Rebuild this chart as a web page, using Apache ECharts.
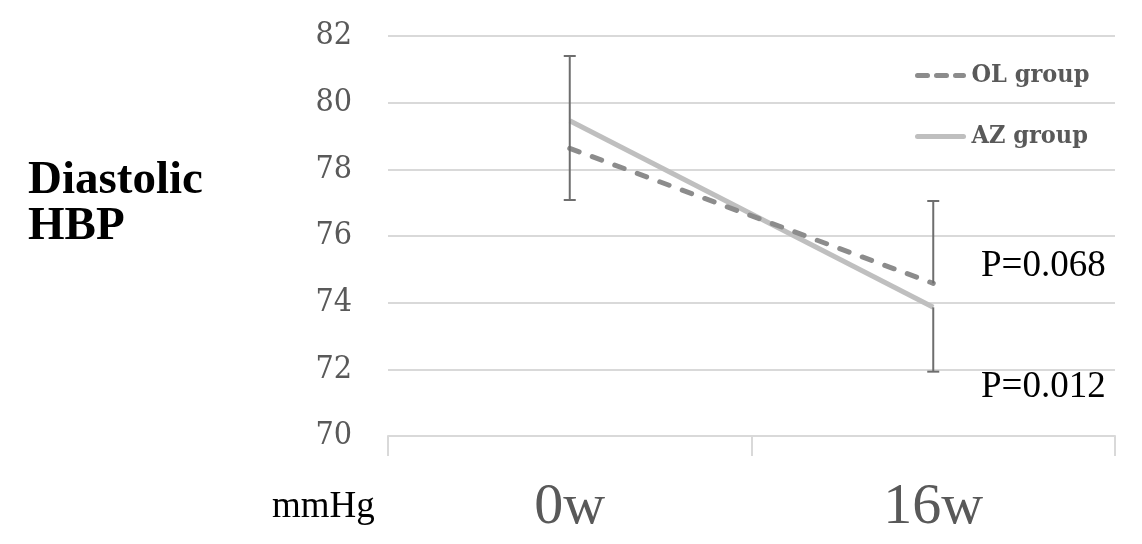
<!DOCTYPE html>
<html>
<head>
<meta charset="utf-8">
<script src="https://cdn.jsdelivr.net/npm/echarts@6/dist/echarts.min.js"></script>
<style>
  html, body { margin: 0; padding: 0; background: #fff; }
  #chart { width: 1142px; height: 544px; }
</style>
</head>
<body>
<div id="chart"></div>
<script>
// Diastolic home blood pressure, mmHg
const categories = ['0w', '16w'];
const yTicks = [70, 72, 74, 76, 78, 80, 82];
const olGroup = [78.63, 74.58];
const azGroup = [79.46, 73.86];
// error bars: [category index, start value, end value] (cap drawn at end value)
const errorBars = [
  [0, 78.63, 81.4],
  [0, 78.63, 77.08],
  [1, 74.58, 77.05],
  [1, 73.86, 71.93]
];
const pValues = ['P=0.068', 'P=0.012'];

const chart = echarts.init(document.getElementById('chart'));
const serif = '"Liberation Serif", "Times New Roman", serif';
const century = '"DejaVu Serif Condensed", "DejaVu Serif", serif';

// legend keys: dashed and solid strokes drawn as paths
const dashedIcon = 'path://M2,0h10a2,2 0 0 1 0,5h-10a2,2 0 0 1 0,-5z' +
  'M21,0h10a2,2 0 0 1 0,5h-10a2,2 0 0 1 0,-5z' +
  'M40,0h8a2,2 0 0 1 0,5h-8a2,2 0 0 1 0,-5z';
const solidIcon = 'path://M2,0h46a2,2 0 0 1 0,5h-46a2,2 0 0 1 0,-5z';

chart.setOption({
  animation: false,
  backgroundColor: '#ffffff',
  grid: { left: 388, right: 27, top: 36, bottom: 108 },
  legend: {
    orient: 'vertical',
    left: 910,
    top: 58,
    itemWidth: 52,
    itemHeight: 5,
    itemGap: 36,
    textStyle: { fontFamily: century, fontWeight: 'bold', fontSize: 25, color: '#595959', lineHeight: 24 },
    data: [
      { name: 'OL group', icon: dashedIcon, itemStyle: { color: '#8c8c8c' } },
      { name: 'AZ group', icon: solidIcon, itemStyle: { color: '#bfbfbf' } }
    ]
  },
  xAxis: {
    type: 'category',
    data: categories,
    boundaryGap: true,
    axisLine: { lineStyle: { color: '#d9d9d9', width: 2 } },
    axisTick: { show: true, length: 20, lineStyle: { color: '#d9d9d9', width: 2 } },
    axisLabel: { fontFamily: serif, fontSize: 58, color: '#595959', margin: 43 }
  },
  yAxis: {
    type: 'value',
    min: yTicks[0],
    max: yTicks[yTicks.length - 1],
    interval: 2,
    axisLine: { show: false },
    axisTick: { show: false },
    splitLine: { lineStyle: { color: '#d9d9d9', width: 2 } },
    axisLabel: { fontFamily: century, fontSize: 32, color: '#595959', margin: 36 }
  },
  series: [
    {
      name: 'OL group',
      type: 'line',
      data: olGroup,
      symbol: 'none',
      z: 3,
      color: '#8c8c8c',
      lineStyle: { color: '#8c8c8c', width: 5, type: [10, 14], cap: 'round' }
    },
    {
      name: 'AZ group',
      type: 'line',
      data: azGroup,
      symbol: 'none',
      z: 2,
      color: '#bfbfbf',
      lineStyle: { color: '#bfbfbf', width: 5 }
    },
    {
      name: 'error',
      type: 'custom',
      z: 4,
      data: errorBars,
      renderItem: function (params, api) {
        const p0 = api.coord([api.value(0), api.value(1)]);
        const p1 = api.coord([api.value(0), api.value(2)]);
        const half = 6;
        const style = { stroke: '#6e6e6e', lineWidth: 2 };
        return {
          type: 'group',
          children: [
            { type: 'line', shape: { x1: p0[0], y1: p0[1], x2: p1[0], y2: p1[1] }, style: style },
            { type: 'line', shape: { x1: p1[0] - half, y1: p1[1], x2: p1[0] + half, y2: p1[1] }, style: style }
          ]
        };
      }
    }
  ],
  graphic: [
    { type: 'text', left: 28, top: 157, style: { text: 'Diastolic', font: 'bold 47px ' + serif, fill: '#000' } },
    { type: 'text', left: 28, top: 203, style: { text: 'HBP', font: 'bold 47px ' + serif, fill: '#000' } },
    { type: 'text', left: 272, top: 489, style: { text: 'mmHg', font: '37px ' + serif, fill: '#000' } },
    { type: 'text', left: 981, top: 248, style: { text: pValues[0], font: '37px ' + serif, fill: '#000' } },
    { type: 'text', left: 981, top: 369, style: { text: pValues[1], font: '37px ' + serif, fill: '#000' } }
  ]
});
</script>
</body>
</html>
